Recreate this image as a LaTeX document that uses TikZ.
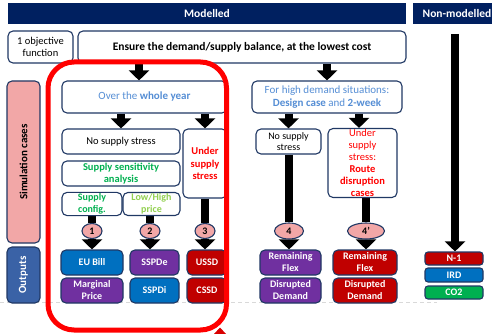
\documentclass[tikz,border=0pt]{standalone}
\usepackage{fontspec}
\setmainfont{Carlito}
\usetikzlibrary{arrows.meta,shapes.geometric}
\definecolor{navy}{HTML}{002060}
\definecolor{edge}{HTML}{203864}
\definecolor{simpink}{HTML}{F2A7A7}
\definecolor{outblue}{HTML}{3A62A6}
\definecolor{skyblue}{HTML}{558ED5}
\definecolor{okgreen}{HTML}{00B050}
\definecolor{limegreen}{HTML}{92D050}
\definecolor{ublue}{HTML}{0070C0}
\definecolor{upurple}{HTML}{7030A0}
\definecolor{ured}{HTML}{C00000}
\pgfdeclarelayer{bg}
\pgfsetlayers{bg,main}
\begin{document}
\begin{tikzpicture}[x=1pt,y=-1pt,
  hdr/.style={fill=navy, text=white, inner sep=0pt,
    font=\bfseries\fontsize{11.5}{13}\selectfont},
  box/.style={draw=edge, line width=1.1pt, rounded corners=5pt, fill=white,
    inner sep=1pt, align=center, font=\fontsize{10.5}{12}\selectfont},
  outbox/.style={box, text=white, font=\bfseries\fontsize{10}{12}\selectfont},
  side/.style={box, rotate=90, font=\bfseries\fontsize{11}{13}\selectfont},
  num/.style={ellipse, draw=edge, line width=1.1pt, fill=simpink, inner sep=0pt,
    font=\bfseries\fontsize{10}{11}\selectfont},
  blk/.style={draw=black, line width=8pt, -{Triangle[width=20pt,length=10pt]}},
  link/.style={draw=black, line width=8pt}]
\useasboundingbox (0,0) rectangle (492,334);

% column headers
\node[hdr, minimum width=398pt, minimum height=21pt] (modelled) at (207,13.5) {Modelled};
\node[hdr, minimum width=88pt, minimum height=21pt] (nonmod) at (457,13.5) {Non-modelled};

% objective row
\node[box, minimum width=65pt, minimum height=32pt] (objective) at (40.5,47) {1 objective\\function};
\node[box, minimum width=328pt, minimum height=32pt, font=\bfseries\fontsize{11.5}{13}\selectfont]
  (ensure) at (242,47) {Ensure the demand/supply balance, at the lowest cost};

% row labels
\node[side, fill=simpink, minimum width=162pt, minimum height=33pt] (simcases) at (23.5,162) {Simulation cases};
\node[side, fill=outblue, text=white, minimum width=56pt, minimum height=33pt] (outputs) at (23.5,275) {Outputs};

% whole-year branch
\node[box, minimum width=165pt, minimum height=32pt, text=skyblue, font=\fontsize{11}{13}\selectfont]
  (year) at (144.5,97) {Over the \textbf{whole year}};
\node[box, minimum width=118pt, minimum height=25pt] (nostressA) at (121,141.5) {No supply stress};
\node[box, minimum width=118pt, minimum height=25pt, text=okgreen, font=\bfseries\fontsize{10.5}{12}\selectfont]
  (sens) at (121,173.5) {Supply sensitivity\\analysis};
\node[box, minimum width=60pt, minimum height=22pt, text=okgreen, font=\bfseries\fontsize{10}{12.5}\selectfont]
  (cfg) at (92,204) {Supply\\config.};
\node[box, minimum width=57pt, minimum height=22pt, text=limegreen, font=\bfseries\fontsize{10}{12.5}\selectfont]
  (price) at (151.5,204) {Low/High\\price};
\node[box, minimum width=44pt, minimum height=69pt, text=red, font=\bfseries\fontsize{10.5}{12.5}\selectfont]
  (stressA) at (205,163.5) {Under\\supply\\stress};

% high-demand branch
\node[box, minimum width=150pt, minimum height=32pt, text=skyblue, font=\fontsize{11}{13}\selectfont]
  (high) at (327,97) {For high demand situations:\\\textbf{Design case} and \textbf{2-week}};
\node[box, minimum width=65pt, minimum height=25pt, font=\fontsize{10}{11.5}\selectfont]
  (nostressB) at (288.5,141.5) {No supply\\stress};
\node[box, minimum width=69pt, minimum height=69pt, text=red, font=\fontsize{10.5}{11.9}\selectfont]
  (stressB) at (362.5,163) {Under\\supply\\stress:\\\textbf{Route}\\\textbf{disruption}\\\textbf{cases}};

% case numbers
\node[num, minimum width=20pt, minimum height=15pt] (e1) at (92,231) {1};
\node[num, minimum width=20pt, minimum height=15pt] (e2) at (150,231) {2};
\node[num, minimum width=20pt, minimum height=15pt] (e3) at (205,231) {3};
\node[num, minimum width=29pt, minimum height=16pt] (e4) at (289,231) {4};
\node[num, minimum width=37pt, minimum height=16pt] (e4p) at (366,231) {4'};

% outputs
\node[outbox, fill=ublue, minimum width=62pt, minimum height=25pt] (eubill) at (92,262.5) {EU Bill};
\node[outbox, fill=upurple, minimum width=62pt, minimum height=25pt] (marg) at (92,290.5) {Marginal\\Price};
\node[outbox, fill=upurple, minimum width=49pt, minimum height=25pt] (sspde) at (154.5,262.5) {SSPDe};
\node[outbox, fill=ublue, minimum width=49pt, minimum height=25pt] (sspdi) at (154.5,290.5) {SSPDi};
\node[outbox, fill=ured, minimum width=40pt, minimum height=25pt] (ussd) at (207,262.5) {USSD};
\node[outbox, fill=ured, minimum width=40pt, minimum height=25pt] (cssd) at (207,290.5) {CSSD};
\node[outbox, fill=upurple, minimum width=61pt, minimum height=25pt] (flexA) at (290.5,262.5) {Remaining\\Flex};
\node[outbox, fill=upurple, minimum width=61pt, minimum height=25pt] (disA) at (290.5,290.5) {Disrupted\\Demand};
\node[outbox, fill=ured, minimum width=64pt, minimum height=25pt] (flexB) at (365,262.5) {Remaining\\Flex};
\node[outbox, fill=ured, minimum width=64pt, minimum height=25pt] (disB) at (365,290.5) {Disrupted\\Demand};

% non-modelled outputs
\node[outbox, fill=ured, minimum width=58pt, minimum height=13pt, rounded corners=3pt] (n1) at (454,258.5) {N-1};
\node[outbox, fill=ublue, minimum width=58pt, minimum height=14pt, rounded corners=3pt] (ird) at (454,275) {IRD};
\node[outbox, fill=okgreen, minimum width=58pt, minimum height=13pt, rounded corners=3pt] (co2) at (454,292.5) {CO2};
\coordinate (nmtop) at (455,34);

\begin{pgfonlayer}{bg}
  \draw[gray!30, line width=0.8pt, dash pattern=on 4pt off 3pt] (0,302.5) -- (437,302.5);
  % top level split
  \draw[blk] (ensure.south -| 139,0) -- (year.north -| 139,0);
  \draw[blk] (ensure.south -| high.north) -- (high.north);
  % whole year
  \draw[blk] (year.south -| nostressA.north) -- (nostressA.north);
  \draw[blk] (year.south -| stressA.north) -- (stressA.north);
  \draw[link] (cfg.south) -- (e1);
  \draw[blk] (e1) -- (eubill.north -| e1);
  \draw[link] (price.south -| e2) -- (e2);
  \draw[blk] (e2) -- (sspde.north -| e2);
  \draw[link] (stressA.south -| e3) -- (e3);
  \draw[blk] (e3) -- (ussd.north -| e3);
  % high demand
  \draw[blk] (high.south -| nostressB.north) -- (nostressB.north);
  \draw[blk] (high.south -| 359,0) -- (stressB.north -| 359,0);
  \draw[link] (nostressB.south -| e4) -- (e4);
  \draw[blk] (e4) -- (flexA.north -| e4);
  \draw[link] (stressB.south -| e4p) -- (e4p);
  \draw[blk] (e4p) -- (flexB.north -| e4p);
  % non-modelled
  \draw[blk] (nmtop) -- (n1.north -| nmtop);
\end{pgfonlayer}

% highlight frame
\draw[red, line width=5pt, rounded corners=26pt] (48,62) rectangle (226.5,330);
\fill[red!85!black] (214,334) -- (220,327.5) -- (226,334) -- cycle;
\end{tikzpicture}
\end{document}
